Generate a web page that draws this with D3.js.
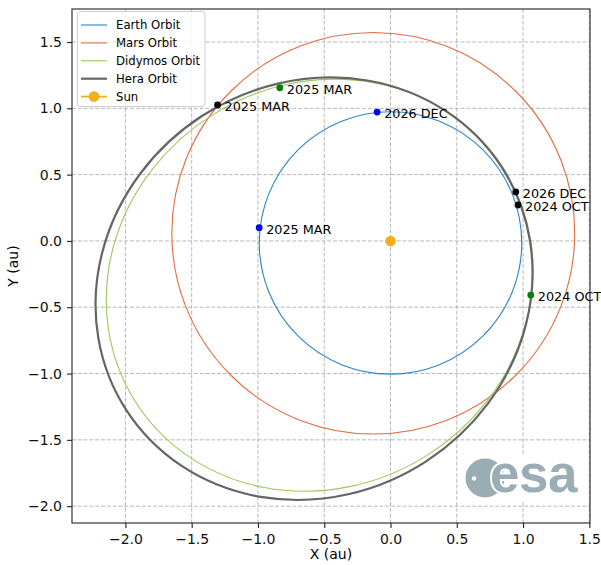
<!DOCTYPE html>
<html>
<head>
<meta charset="utf-8">
<script src="https://cdn.jsdelivr.net/npm/d3@7"></script>
<style>
  body { margin: 0; background: #fff; }
  svg { display: block; font-family: "DejaVu Sans", sans-serif; }
</style>
</head>
<body>
<svg width="601" height="565"></svg>
<script>
// orbits, as ellipses (au, degrees)
const orbitNames = ["Earth Orbit", "Mars Orbit", "Didymos Orbit", "Hera Orbit"];
const orbitColors = ["#2b86c8", "#e8693f", "#9cc95a", "#656565"];
const orbitWidths = [1.1, 1.1, 1.1, 2.2];
const orbitCenterX = [0.0, -0.13, -0.535, -0.577];
const orbitCenterY = [-0.015, 0.058, -0.334, -0.36];
const orbitSemiMajor = [0.99, 1.52, 1.644, 1.687];
const orbitSemiMinor = [0.99, 1.515, 1.518, 1.553];
const orbitTilt = [0, 0, 32, 33];

// dated positions
const pointX = [-0.991, -0.101, -0.835, 1.058, -1.305, 0.945, 0.962];
const pointY = [0.100, 0.972, 1.155, -0.408, 1.025, 0.369, 0.271];
const pointLabels = ["2025 MAR", "2026 DEC", "2025 MAR", "2024 OCT", "2025 MAR", "2026 DEC", "2024 OCT"];
const pointColors = ["#0000ff", "#0000ff", "#008000", "#008000", "#000000", "#000000", "#000000"];

const sunX = 0, sunY = 0;
const sunColor = "#f1ae1f";

const xTicks = [-2.0, -1.5, -1.0, -0.5, 0.0, 0.5, 1.0, 1.5];
const yTicks = [-2.0, -1.5, -1.0, -0.5, 0.0, 0.5, 1.0, 1.5];

const svg = d3.select("svg");
const mLeft = 72, mRight = 590, mTop = 9, mBottom = 523;

const x = d3.scaleLinear().domain([-2.403, 1.505]).range([mLeft, mRight]);
const y = d3.scaleLinear().domain([-2.127, 1.749]).range([mBottom, mTop]);
const k = x(1) - x(0);

const fmt = (d) => d3.format(".1f")(d).replace("-", "\u2212");

// grid
const grid = svg.append("g")
  .attr("stroke", "#b0b0b0")
  .attr("stroke-width", 0.9)
  .attr("stroke-dasharray", "4,1.8");
grid.selectAll(".gx").data(xTicks).join("line")
  .attr("class", "gx")
  .attr("x1", (d) => x(d)).attr("x2", (d) => x(d))
  .attr("y1", mTop).attr("y2", mBottom);
grid.selectAll(".gy").data(yTicks).join("line")
  .attr("class", "gy")
  .attr("y1", (d) => y(d)).attr("y2", (d) => y(d))
  .attr("x1", mLeft).attr("x2", mRight);

// esa logo
const logo = svg.append("g");
logo.append("rect")
  .attr("x", 463).attr("y", 455).attr("width", 122).attr("height", 45)
  .attr("fill", "#fff");
logo.append("circle")
  .attr("cx", 485).attr("cy", 478).attr("r", 19.5)
  .attr("fill", "#9aacb4");
logo.append("circle")
  .attr("cx", 474).attr("cy", 478.5).attr("r", 2.2)
  .attr("fill", "#fff");
logo.append("text")
  .attr("x", 490).attr("y", 492)
  .attr("font-size", 53).attr("font-weight", "bold")
  .attr("font-family", "Liberation Sans, sans-serif")
  .attr("letter-spacing", -0.5)
  .attr("fill", "#9aacb4")
  .attr("stroke", "#fff").attr("stroke-width", 4)
  .attr("paint-order", "stroke")
  .text("esa");

// orbits
const orbits = svg.append("g").attr("fill", "none");
orbitNames.forEach((name, i) => {
  orbits.append("ellipse")
    .attr("transform", `translate(${x(orbitCenterX[i])},${y(orbitCenterY[i])}) rotate(${-orbitTilt[i]})`)
    .attr("rx", orbitSemiMajor[i] * k)
    .attr("ry", orbitSemiMinor[i] * k)
    .attr("stroke", orbitColors[i])
    .attr("stroke-width", orbitWidths[i]);
});

// sun
svg.append("circle")
  .attr("cx", x(sunX)).attr("cy", y(sunY)).attr("r", 5.3)
  .attr("fill", sunColor);

// points and labels
const pts = svg.append("g");
pts.selectAll("circle").data(pointX).join("circle")
  .attr("cx", (d) => x(d))
  .attr("cy", (d, i) => y(pointY[i]))
  .attr("r", 3.4)
  .attr("fill", (d, i) => pointColors[i]);
pts.selectAll("text").data(pointLabels).join("text")
  .attr("x", (d, i) => x(pointX[i]) + 7)
  .attr("y", (d, i) => y(pointY[i]) + 6)
  .attr("font-size", 12.8)
  .attr("fill", "#000")
  .text((d) => d);

// axes
const xAxis = svg.append("g")
  .attr("transform", `translate(0,${mBottom})`)
  .call(d3.axisBottom(x).tickValues(xTicks).tickFormat(fmt).tickSize(5).tickPadding(6));
const yAxis = svg.append("g")
  .attr("transform", `translate(${mLeft},0)`)
  .call(d3.axisLeft(y).tickValues(yTicks).tickFormat(fmt).tickSize(5).tickPadding(5));
[xAxis, yAxis].forEach((g) => {
  g.select(".domain").remove();
  g.selectAll("line").attr("stroke", "#222").attr("stroke-width", 1.1);
  g.selectAll("text")
    .attr("font-size", 14)
    .attr("font-family", "DejaVu Sans, sans-serif")
    .attr("fill", "#111");
});

svg.append("rect")
  .attr("x", mLeft).attr("y", mTop)
  .attr("width", mRight - mLeft).attr("height", mBottom - mTop)
  .attr("fill", "none").attr("stroke", "#222").attr("stroke-width", 1.1);

svg.append("text")
  .attr("x", (mLeft + mRight) / 2).attr("y", 559)
  .attr("text-anchor", "middle").attr("font-size", 14)
  .text("X (au)");
svg.append("text")
  .attr("transform", `translate(18,${(mTop + mBottom) / 2}) rotate(-90)`)
  .attr("text-anchor", "middle").attr("font-size", 14)
  .text("Y (au)");

// legend
const legendNames = orbitNames.concat(["Sun"]);
const legendColors = orbitColors.concat([sunColor]);
const legendWidths = orbitWidths.concat([1.8]);
const legend = svg.append("g");
legend.append("rect")
  .attr("x", 77.5).attr("y", 11.5).attr("width", 127.5).attr("height", 95)
  .attr("rx", 3).attr("fill", "#fff").attr("fill-opacity", 0.8)
  .attr("stroke", "#cfcfcf").attr("stroke-width", 1);
legendNames.forEach((name, i) => {
  const ly = 25 + i * 17.9;
  legend.append("line")
    .attr("x1", 81).attr("x2", 107).attr("y1", ly).attr("y2", ly)
    .attr("stroke", legendColors[i]).attr("stroke-width", legendWidths[i]);
  if (name === "Sun") {
    legend.append("circle").attr("cx", 94).attr("cy", ly).attr("r", 5.3).attr("fill", sunColor);
  }
  legend.append("text")
    .attr("x", 116).attr("y", ly + 4.2)
    .attr("font-size", 11.7)
    .text(name);
});
</script>
</body>
</html>
